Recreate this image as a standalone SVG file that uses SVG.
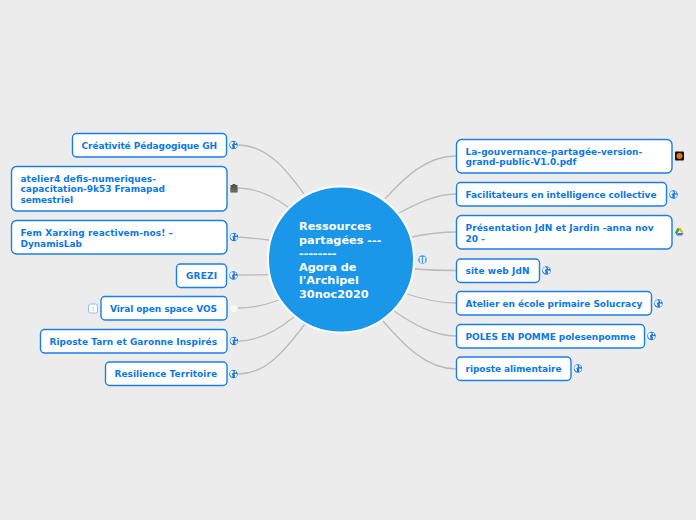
<svg xmlns="http://www.w3.org/2000/svg" width="696" height="520" viewBox="0 0 696 520">
<style>
.box{fill:#fff;stroke:#1a7fe6;stroke-width:1.4}
.t{font-family:"DejaVu Sans",sans-serif;font-weight:700;font-size:9px;fill:#0b78e6}
.c{font-family:"DejaVu Sans",sans-serif;font-weight:700;font-size:11.3px;fill:#fff}
.l{fill:none;stroke:#bbb;stroke-width:1.3}
</style>
<defs>
<g id="globe"><circle r="5" fill="#fff" opacity=".55"/><circle r="4.300" fill="#1f78d6"/><path d="M-3.300-2.200 L-1.500-3.500 L0.200-2.600 L-0.400-0.900 L-1.800-0.600 L-1 1.200 L-1.300 3.300 L-2.600 2 L-3.800 0.200Z M1-3.600 L3.200-2.400 L2.400-1.100 L1.300-1.700Z M0.700 0 L3.900 0.300 L3 2.400 L1.100 3.400 L1.500 1.600Z" fill="#fff" opacity=".92"/></g>
</defs>
<rect width="696" height="520" fill="#ececec"/>
<g id="connectors">
<path class="l" d="M238 145C268 145 288 172 304 194"/>
<path class="l" d="M238 188C258 188 274 197 288 207"/>
<path class="l" d="M238 237C250 238 260 239 269 240"/>
<path class="l" d="M238 275C250 275 260 275 268 274.500"/>
<path class="l" d="M238 308C252 308 266 305 279 300"/>
<path class="l" d="M238 341C258 341 278 330 294 317"/>
<path class="l" d="M238 374C268 374 288 346 305 324"/>
<path class="l" d="M456 156C426 156 404 178 385 199"/>
<path class="l" d="M456 194C436 194 416 204 399 213"/>
<path class="l" d="M456 232C440 232 426 234 412 237"/>
<path class="l" d="M456 270.500C440 270.500 428 270 415 269"/>
<path class="l" d="M456 303C438 303 422 299 407 294"/>
<path class="l" d="M456 336C434 336 413 324 394 311"/>
<path class="l" d="M456 369C426 369 403 344 383 321"/>
</g>
<g id="center"><circle cx="341" cy="259.500" r="73" fill="#1a97e8" stroke="#fff" stroke-width="2"/>
<text class="c"><tspan x="299" y="230">Ressources</tspan><tspan x="299" y="243.500">partagées ---</tspan><tspan x="299" y="257">--------</tspan><tspan x="299" y="271">Agora de</tspan><tspan x="299" y="284">l'Archipel</tspan><tspan x="299" y="297.500">30noc2020</tspan></text>
<g transform="translate(422.500,259.500)"><circle r="4.300" fill="#4aa3e4"/><path d="M-3-2.500 L-0.800-2.500 L-0.800 3.500 L-2 3.500Z M0.800-2.500 L3-2.500 L2 3.500 L0.800 3.500Z" fill="#fff"/></g></g>
<g id="n1"><rect class="box" x="72.500" y="133.500" width="154" height="23.500" rx="4"/><text class="t" x="81.500" y="149" textLength="135.500">Créativité Pédagogique GH</text><use href="#globe" x="233.500" y="145"/></g>
<g id="n2"><rect class="box" x="11.500" y="166.500" width="215.500" height="44.500" rx="5"/><text class="t"><tspan x="20.500" y="182" textLength="135.500">atelier4 defis-numeriques-</tspan><tspan x="20.500" y="192" textLength="144.500">capacitation-9k53 Framapad</tspan><tspan x="20.500" y="203" textLength="52.500">semestriel</tspan></text><g transform="translate(234,188.500)"><rect x="-3.500" y="-3.500" width="7" height="7.500" fill="#555"/><rect x="-1.500" y="-4.500" width="3" height="1" fill="#555"/><rect x="-3.500" y="-0.500" width="7" height="1.500" fill="#8a4a7a"/><rect x="-3.500" y="1.500" width="7" height="1.500" fill="#4a8a4a"/></g></g>
<g id="n3"><rect class="box" x="11.500" y="220.500" width="215.500" height="33.500" rx="5"/><text class="t"><tspan x="20.500" y="236" textLength="152.500">Fem Xarxing reactivem-nos! –</tspan><tspan x="20.500" y="247" textLength="61.500">DynamisLab</tspan></text><use href="#globe" x="234" y="237"/></g>
<g id="n4"><rect class="box" x="176.500" y="264" width="50" height="23.500" rx="4"/><text class="t" x="186" y="279" textLength="31">GREZI</text><use href="#globe" x="233.500" y="275.500"/></g>
<g id="n5"><rect class="box" x="101" y="296.500" width="126" height="23.500" rx="4"/><text class="t" x="110" y="312" textLength="107">Viral open space VOS</text><rect x="88.500" y="304" width="9" height="9" rx="2" fill="#fff" stroke="#8fc0f0"/><text x="93" y="311" text-anchor="middle" font-family="DejaVu Sans,sans-serif" font-size="6" fill="#7a9cc0">!</text><circle cx="234" cy="308.500" r="3.500" fill="#f8f8f8"/></g>
<g id="n6"><rect class="box" x="40.500" y="329.500" width="186.500" height="23.500" rx="4"/><text class="t" x="49.500" y="345" textLength="167.500">Riposte Tarn et Garonne Inspirés</text><use href="#globe" x="234" y="341"/></g>
<g id="n7"><rect class="box" x="105.500" y="362" width="121.500" height="23.500" rx="4"/><text class="t" x="114.500" y="377" textLength="102.500">Resilience Territoire</text><use href="#globe" x="233.500" y="374"/></g>
<g id="n8"><rect class="box" x="456.500" y="139.500" width="215.500" height="33.500" rx="5"/><text class="t"><tspan x="465.500" y="155" textLength="176.800">La-gouvernance-partagée-version-</tspan><tspan x="465.500" y="165" textLength="111">grand-public-V1.0.pdf</tspan></text><g transform="translate(679.500,156)"><rect x="-4.500" y="-4.500" width="9" height="9" rx="1" fill="#111"/><circle r="3" fill="#e8701a"/></g></g>
<g id="n9"><rect class="box" x="456.500" y="182.500" width="210" height="23.500" rx="4"/><text class="t" x="465.500" y="198" textLength="191">Facilitateurs en intelligence collective</text><use href="#globe" x="673.500" y="194.500"/></g>
<g id="n10"><rect class="box" x="456.500" y="215.500" width="215.500" height="33.500" rx="5"/><text class="t"><tspan x="465.500" y="231" textLength="188">Présentation JdN et Jardin -anna nov</tspan><tspan x="465.500" y="242">20 -</tspan></text><g transform="translate(679,232)"><path d="M-1.500-4 H1.500 L-2.500 3 L-4 0.500Z" fill="#2aa84a"/><path d="M-1-4 H1.500 L4.500 0.500 H1.800Z" fill="#f4b400"/><path d="M-2.500 3.500 L-1 1 H4.500 L3 3.500Z" fill="#3a78e0"/></g></g>
<g id="n11"><rect class="box" x="456.500" y="259" width="83" height="23.500" rx="4"/><text class="t" x="465.500" y="274" textLength="64">site web JdN</text><use href="#globe" x="546.500" y="270.500"/></g>
<g id="n12"><rect class="box" x="456.500" y="291.500" width="195" height="23.500" rx="4"/><text class="t" x="465.500" y="307" textLength="176.800">Atelier en école primaire Solucracy</text><use href="#globe" x="658.500" y="303.500"/></g>
<g id="n13"><rect class="box" x="456.500" y="324.500" width="188" height="23.500" rx="4"/><text class="t" x="465.500" y="340" textLength="170">POLES EN POMME polesenpomme</text><use href="#globe" x="651.500" y="336"/></g>
<g id="n14"><rect class="box" x="456.500" y="357" width="114.500" height="23.500" rx="4"/><text class="t" x="465.500" y="372" textLength="96">riposte alimentaire</text><use href="#globe" x="578" y="368.500"/></g>
</svg>
